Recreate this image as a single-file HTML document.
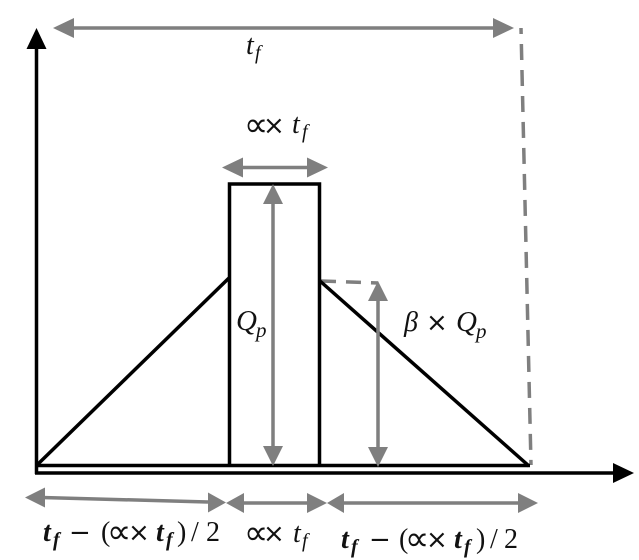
<!DOCTYPE html>
<html>
<head>
<meta charset="utf-8">
<style>
html,body{margin:0;padding:0;background:#fff;}
svg{display:block;}
text{font-family:"Liberation Serif","DejaVu Serif",serif;fill:#111;}
.i{font-style:italic;}
.s{font-family:"DejaVu Sans",sans-serif;font-size:26px;}
.a{font-family:"DejaVu Sans",sans-serif;font-size:34px;}
.t{font-size:28px;font-style:italic;}
.f{font-size:20px;font-style:italic;}
.tb{font-size:28px;font-style:italic;font-weight:bold;}
.fb{font-size:20px;font-style:italic;font-weight:bold;}
.n{font-size:28px;}
.q{font-size:29px;font-style:italic;}
.p{font-size:21px;font-style:italic;}
</style>
</head>
<body>
<svg width="639" height="560" viewBox="0 0 639 560" xmlns="http://www.w3.org/2000/svg">
<rect width="639" height="560" fill="#fff"/>
<g stroke="#7f7f7f" stroke-width="3.5" fill="none">
<line x1="521" y1="28" x2="531" y2="465" stroke-dasharray="16 10" stroke-dashoffset="10"/>
<line x1="321" y1="281" x2="378" y2="283" stroke-dasharray="15 10"/>
</g>
<g stroke="#000" fill="none" stroke-width="3.5">
<line x1="36.5" y1="46" x2="36.5" y2="474"/>
<line x1="35" y1="473" x2="615" y2="473"/>
<line x1="36" y1="465.500" x2="530" y2="465.500"/>
<path d="M229.500 466V184H319.500V466"/>
<line x1="37" y1="465" x2="229" y2="278"/>
<line x1="320" y1="281" x2="529" y2="466"/>
</g>
<polygon points="36.500,28 26.500,49 46.500,49" fill="#000"/>
<polygon points="634,473 613,463 613,483" fill="#000"/>
<g stroke="#7f7f7f" stroke-width="3.5" fill="none">
<line x1="70" y1="28" x2="496" y2="28"/>
<line x1="240" y1="167.500" x2="310" y2="167.500"/>
<line x1="273" y1="202" x2="273" y2="447"/>
<line x1="378" y1="300" x2="378" y2="448"/>
<line x1="42" y1="497.500" x2="208" y2="502"/>
<line x1="242" y1="503" x2="310" y2="503"/>
<line x1="343" y1="503" x2="520" y2="503"/>
</g>
<g fill="#7f7f7f">
<polygon points="53,28 74,18 74,38"/>
<polygon points="514,28 493,18 493,38"/>
<polygon points="222,167.500 243,157.500 243,177.500"/>
<polygon points="328,167.500 307,157.500 307,177.500"/>
<polygon points="273,184 263,204 283,204"/>
<polygon points="273,466 263,446 283,446"/>
<polygon points="378,281 368,301 388,301"/>
<polygon points="378,467 368,447 388,447"/>
<polygon points="25,497.500 45,487.500 45,507.500"/>
<polygon points="226,502.500 208,492.500 208,512.500"/>
<polygon points="226,503 244,493 244,513"/>
<polygon points="327,503 307,493 307,513"/>
<polygon points="327,503 344,493 344,513"/>
<polygon points="538,503 518,493 518,513"/>
</g>
<!-- top tf -->
<text x="246" y="54" class="t">t</text>
<text x="255" y="59" class="f">f</text>
<!-- upper alpha x tf -->
<text x="244" y="136" class="a">∝</text>
<text x="263" y="134" class="s">×</text>
<text x="292" y="133" class="t">t</text>
<text x="302" y="138" class="f">f</text>
<!-- Qp -->
<text x="236" y="330" class="q">Q</text>
<text x="256" y="337" class="p">p</text>
<!-- beta Qp -->
<text x="404" y="331" class="n i">β</text>
<text x="426" y="331" class="s">×</text>
<text x="456" y="331" class="q">Q</text>
<text x="476" y="338" class="p">p</text>
<!-- bottom-left -->
<text x="43" y="541" class="tb">t</text>
<text x="53" y="546" class="fb">f</text>
<text x="69" y="541" class="s">−</text>
<text x="101" y="541" class="n">(</text>
<text x="107" y="543" class="a">∝</text>
<text x="128" y="541" class="s">×</text>
<text x="156" y="541" class="tb">t</text>
<text x="166" y="546" class="fb">f</text>
<text x="177" y="541" class="n">)</text>
<text x="191" y="541" class="n">/</text>
<text x="206" y="541" class="n">2</text>
<!-- bottom-middle -->
<text x="244" y="544" class="a">∝</text>
<text x="263" y="542" class="s">×</text>
<text x="293" y="542" class="t">t</text>
<text x="302" y="547" class="f">f</text>
<!-- bottom-right -->
<text x="341" y="548" class="tb">t</text>
<text x="351" y="553" class="fb">f</text>
<text x="369" y="548" class="s">−</text>
<text x="399" y="548" class="n">(</text>
<text x="405" y="550" class="a">∝</text>
<text x="426" y="548" class="s">×</text>
<text x="454" y="548" class="tb">t</text>
<text x="464" y="553" class="fb">f</text>
<text x="476" y="548" class="n">)</text>
<text x="490" y="548" class="n">/</text>
<text x="504" y="548" class="n">2</text>
</svg>
</body>
</html>
